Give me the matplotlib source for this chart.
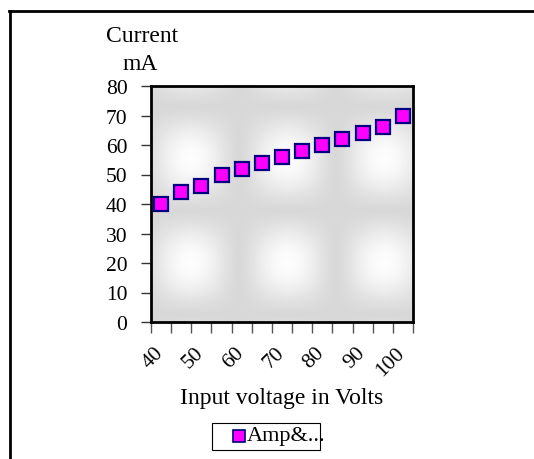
import numpy as np
import matplotlib
matplotlib.use("Agg")
import matplotlib.pyplot as plt
from matplotlib.patches import Rectangle
from matplotlib.lines import Line2D

# data: current drawn at each input voltage step
voltage = [40, 45, 50, 55, 60, 65, 70, 75, 80, 85, 90, 95, 100]
current = [40, 44, 46, 50, 52, 54, 56, 58, 60, 62, 64, 66, 70]
y_ticks = [0, 10, 20, 30, 40, 50, 60, 70, 80]
series_name = "Amp&..."

W, H = 534, 460
FS_NUM = 15.5   # tick numbers
FS_TXT = 17     # axis titles
plt.rcParams['font.family'] = ['Liberation Serif', 'DejaVu Serif']
fig = plt.figure(figsize=(W / 100, H / 100), dpi=100)

# plot area in pixels
left, right, top, bottom = 151, 413, 87, 323
ax = fig.add_axes([left / W, 1 - bottom / H, (right - left) / W, (bottom - top) / H])

# soft tiled background for the plot area
pw, ph = right - left, bottom - top
xx, yy = np.meshgrid(np.arange(pw), np.arange(ph))
bx = 0.5 + 0.5 * np.cos(2 * np.pi * (xx - 39) / 97)
by = 0.5 + 0.5 * np.cos(2 * np.pi * (yy - 72) / 104)
shade = 0.845 + 0.145 * (bx * by) ** 0.7
n = len(voltage)
ax.imshow(shade, cmap='gray', vmin=0, vmax=1, extent=(-0.5, n - 0.5, 0, 80),
          aspect='auto', zorder=0, interpolation='bilinear')

x = np.arange(n)
ax.plot(x, current, linestyle='none', marker='s', markersize=10,
        markerfacecolor='#FF00FF', markeredgecolor='#000080',
        markeredgewidth=1.6, zorder=3, clip_on=False)

ax.set_xlim(-0.5, n - 0.5)
ax.set_ylim(0, 80)
ax.set_yticks(y_ticks)
ax.set_yticklabels([str(v) for v in y_ticks], fontsize=FS_NUM)
ax.tick_params(axis='y', direction='out', length=7, width=1, color='#333333', pad=10)

# every other category is labelled; the labels sit a little right of centre
ax.set_xticks(x[::2] + 0.3)
ax.set_xticklabels([str(v) for v in voltage[::2]], fontsize=FS_NUM, rotation=45,
                   ha='right', va='top')
ax.set_xticks(np.arange(n + 1) - 0.5, minor=True)
ax.tick_params(axis='x', which='major', length=0, pad=15)
ax.tick_params(axis='x', which='minor', direction='out', length=8, width=1, color='#555555')

for s in ax.spines.values():
    s.set_linewidth(2)
    s.set_color('black')

ax.set_xlabel("Input voltage in Volts", fontsize=FS_TXT, va='center')
ax.xaxis.set_label_coords(0.5, -(399 - bottom) / (bottom - top))
fig.text(142 / W, 1 - 37 / H, "Current", fontsize=FS_TXT, ha='center', va='center')
fig.text(140 / W, 1 - 64 / H, "mA", fontsize=FS_TXT, ha='center', va='center')

# chart frame lines
fig.add_artist(Line2D([9 / W, 1], [1 - 12 / H] * 2, color='black', linewidth=2))
fig.add_artist(Line2D([10 / W] * 2, [0, 1 - 12 / H], color='black', linewidth=2))

# legend box
fig.add_artist(Rectangle((212 / W, 1 - 451 / H), 108 / W, 27 / H, transform=fig.transFigure,
                         facecolor='white', edgecolor='black', linewidth=0.8))
fig.add_artist(Line2D([239 / W], [1 - 437 / H], marker='s', markersize=8,
                      markerfacecolor='#FF00FF', markeredgecolor='#000080',
                      markeredgewidth=1.2, linestyle='none'))
fig.text(247 / W, 1 - 437 / H, series_name, fontsize=16, ha='left', va='center')

fig.savefig("out.png", dpi=100)
